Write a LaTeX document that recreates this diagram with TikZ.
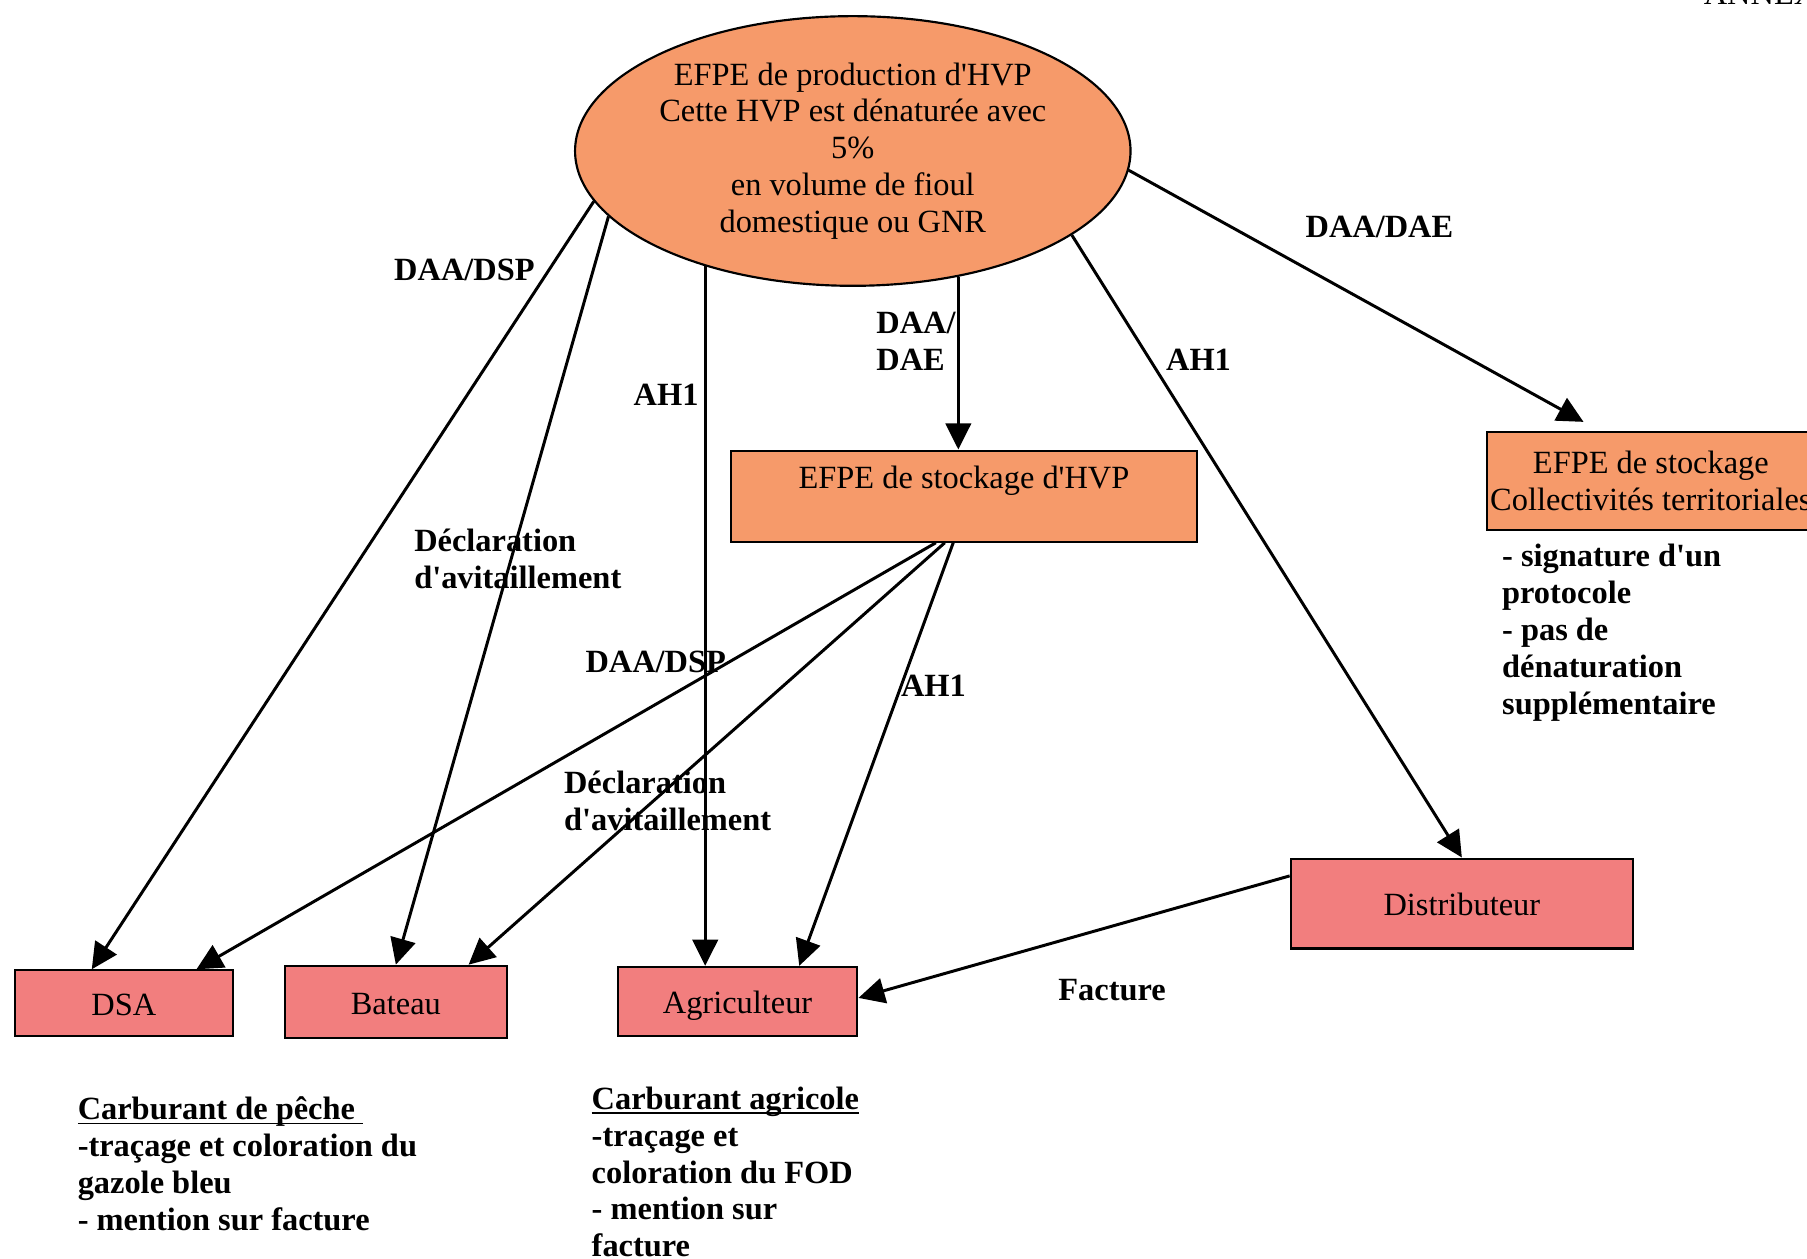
\documentclass[tikz,border=0pt]{standalone}
\usepackage{fontspec}
\setmainfont{Liberation Serif}
\usepackage{tikz}
\usetikzlibrary{calc,arrows.meta,shapes.geometric}
\definecolor{orangebox}{HTML}{F69A6A}
\definecolor{pinkbox}{HTML}{F27E7E}
\newlength\unitpx
\setlength\unitpx{0.15mm}
\newcommand\ulin[1]{\setbox0\hbox{#1}\rlap{\rule[-1.7pt]{\wd0}{0.6pt}}\box0}
\newcommand\apo{\textquotesingle}
\tikzset{
  txt/.style={font=\fontsize{12pt}{13.66pt}\selectfont},
  ell/.style={ellipse, draw=black, line width=0.8pt, fill=orangebox, inner sep=0pt, txt, align=center},
  boxo/.style={rectangle, draw=black, line width=0.8pt, fill=orangebox, inner sep=0pt, txt, align=center},
  boxp/.style={rectangle, draw=black, line width=0.8pt, fill=pinkbox, inner sep=0pt, txt, text height=9pt, text depth=0pt},
  lab/.style={font=\fontsize{12pt}{13.66pt}\selectfont\bfseries, inner sep=0pt, align=left},
  note/.style={lab, anchor=west},
  arr/.style={draw=black, line width=1.1pt, -{Triangle[length=3.4mm,width=3.3mm]}},
}

\begin{document}
\begin{tikzpicture}[x=\unitpx, y=-\unitpx]
  \useasboundingbox (0,0) rectangle (1568,1092);
  \clip (0,0) rectangle (1568,1092);

  % producer and storage
  \node[ell, minimum width=482\unitpx, minimum height=234\unitpx] (prod) at (740,131)
    {EFPE de production d\apo HVP\\Cette HVP est dénaturée avec\\5\%\\en volume de fioul\\domestique ou GNR};
  \node[boxo, minimum width=405\unitpx, minimum height=79\unitpx] (stock) at (836.5,430.5)
    {EFPE de stockage d\apo HVP\\~};
  \node[boxo, minimum width=285\unitpx, minimum height=85\unitpx] (coll) at (1432.5,417.5)
    {EFPE de stockage\\Collectivités territoriales};

  % receivers
  \node[boxp, minimum width=189\unitpx, minimum height=57\unitpx] (dsa) at (107.5,870.5) {DSA};
  \node[boxp, minimum width=193\unitpx, minimum height=63\unitpx] (bateau) at (343.5,869.5) {Bateau};
  \node[boxp, minimum width=208\unitpx, minimum height=60\unitpx] (agri) at (640,869) {Agriculteur};
  \node[boxp, minimum width=297\unitpx, minimum height=78\unitpx] (dist) at (1268.5,784) {Distributeur};

  % notes
  \node[note] (protocole) at (1303,549)
    {- signature d\apo un\\protocole\\- pas de\\dénaturation\\supplémentaire};
  \node[note] (peche) at (67,1010)
    {\ulin{Carburant de pêche\ }\\-traçage et coloration du\\gazole bleu\\- mention sur facture};
  \node[note] (agricole) at (513,1017)
    {\ulin{Carburant agricole}\\-traçage et\\coloration du FOD\\- mention sur\\facture};
  \node[txt, anchor=base west, inner sep=0pt] (annexe) at (1478,3.5) {ANNEXE};

  % flows from the producer
  \draw[arr] (prod.191) -- ($(dsa.north west)!0.354!(dsa.north east)$);
  \draw[arr] (prod.195) -- (bateau.north);
  \draw[arr] (prod.218) -- (prod.218 |- agri.north);
  \draw[arr] (prod.310) -- (prod.310 |- stock.north);
  \draw[arr] (prod.339) -- (dist.north);
  \draw[arr] (prod.356) -- ($(coll.north west)+(85,-8)$);

  % flows from the storage
  \draw[arr] ($(stock.south west)!0.44!(stock.south east)$) -- ($(dsa.north west)!0.83!(dsa.north east)$);
  \draw[arr] ($(stock.south west)!0.459!(stock.south east)$) -- ($(bateau.north west)!0.824!(bateau.north east)$);
  \draw[arr] ($(stock.south west)!0.477!(stock.south east)$) -- ($(agri.north west)!0.755!(agri.north east)$);
  \draw[arr] ($(dist.north west)!0.2!(dist.south west)$) -- ($(agri.north east)!0.45!(agri.south east)$);

  % document labels
  \node[lab] (l1) at (403,234) {DAA/DSP};
  \node[lab, anchor=west] (l2) at (359,485) {Déclaration\\d\apo avitaillement};
  \node[lab] (l3) at (578,343) {AH1};
  \node[lab, anchor=west] (l4) at (760,296) {DAA/\\DAE};
  \node[lab] (l5) at (1040,312) {AH1};
  \node[lab] (l6) at (1197,197) {DAA/DAE};
  \node[lab] (l7) at (569,574) {DAA/DSP};
  \node[lab, anchor=west] (l8) at (489,695) {Déclaration\\d\apo avitaillement};
  \node[lab] (l9) at (810,595) {AH1};
  \node[lab] (l10) at (965,859) {Facture};
\end{tikzpicture}
\end{document}
